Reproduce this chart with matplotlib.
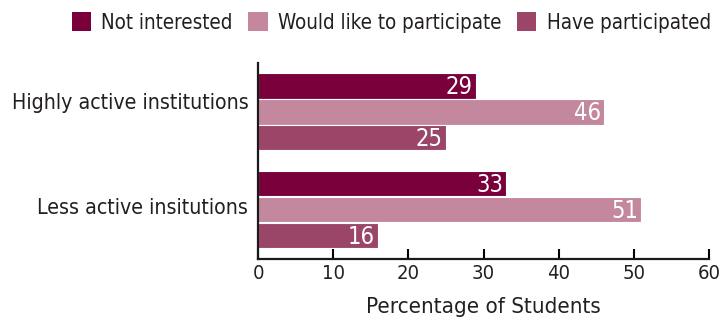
import matplotlib
matplotlib.use("Agg")
import matplotlib.pyplot as plt
from matplotlib import font_manager
from matplotlib.patches import Patch

# Data
groups = ["Highly active institutions", "Less active insitutions"]
series = ["Not interested", "Would like to participate", "Have participated"]
not_interested = [29, 33]
would_like = [46, 51]
have_participated = [25, 16]
xticks = [0, 10, 20, 30, 40, 50, 60]

colors = ["#7a003c", "#c4889e", "#9b4669"]
text_color = "#231f20"

# Prefer a semi-condensed humanist sans if one is installed
condensed = None
for fam in ["Open Sans", "Noto Sans", "Roboto", "DejaVu Sans"]:
    for f in font_manager.fontManager.ttflist:
        if (f.name == fam and f.style == "normal" and f.weight in (400, "normal", "regular")
                and f.stretch in ("semi-condensed", "condensed")):
            condensed = f
            break
    if condensed:
        break

if condensed is not None:
    plt.rcParams["font.family"] = [condensed.name, "DejaVu Sans"]
    plt.rcParams["font.stretch"] = condensed.stretch
    scale = 1.0
else:
    plt.rcParams["font.family"] = ["Open Sans", "DejaVu Sans"]
    scale = 0.94

fig = plt.figure(figsize=(7.27, 3.23), dpi=100)
ax = fig.add_axes([258 / 727, 1 - 258.5 / 323, (709 - 258) / 727, (258.5 - 63) / 323])

step = 0.265
height = 0.26
values = [not_interested, would_like, have_participated]
for i, (vals, col) in enumerate(zip(values, colors)):
    ys = [g + (i - 1) * step for g in range(len(groups))]
    ax.barh(ys, vals, height=height, color=col, edgecolor="white", linewidth=0.8)
    for y, v in zip(ys, vals):
        ax.text(v - 0.4, y + 0.01, str(v), ha="right", va="center", color="white",
                fontsize=17 * scale)

ax.set_ylim(1.5, -0.5)
ax.set_xlim(0, 60)
ax.set_xticks(xticks)
ax.set_xticklabels([str(t) for t in xticks], fontsize=14.5 * scale, color=text_color)
# category labels sit slightly above their group centres
ax.set_yticks([-0.11, 0.965])
ax.set_yticklabels(groups, fontsize=15.3 * scale, color=text_color)
ax.tick_params(axis="x", direction="in", length=7, width=1.5, pad=4)
ax.tick_params(axis="y", length=0, pad=7)
for s in ["top", "right"]:
    ax.spines[s].set_visible(False)
for s in ["left", "bottom"]:
    ax.spines[s].set_linewidth(1.6)
    ax.spines[s].set_color("#1a1a1a")
ax.set_xlabel("Percentage of Students", fontsize=16 * scale, color=text_color, labelpad=10)

handles = [Patch(facecolor=c, edgecolor="none") for c in colors]
fig.legend(handles, series, loc="upper center", bbox_to_anchor=(0.538, 1.02), ncol=3,
           frameon=False, fontsize=14.8 * scale, handlelength=0.95, handleheight=1.05,
           handletextpad=0.5, columnspacing=0.75, labelcolor=text_color)

fig.savefig("out.png", dpi=100)
